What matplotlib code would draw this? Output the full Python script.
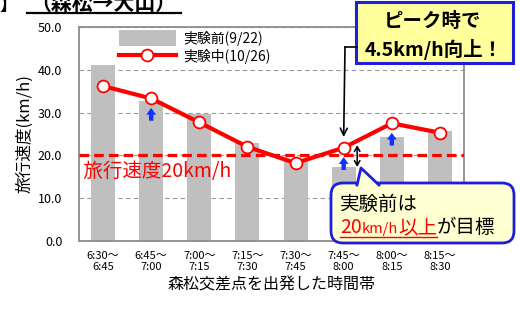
import numpy as np
import matplotlib
matplotlib.use("Agg")
import matplotlib.pyplot as plt
from matplotlib.patches import FancyBboxPatch, Rectangle, Polygon
from matplotlib.lines import Line2D

plt.rcParams['font.family'] = ['Noto Sans CJK JP', 'DejaVu Sans']

# data
slots = ["6:30～\n6:45", "6:45～\n7:00", "7:00～\n7:15", "7:15～\n7:30",
         "7:30～\n7:45", "7:45～\n8:00", "8:00～\n8:15", "8:15～\n8:30"]
before = [41.1, 32.8, 29.6, 23.0, 18.8, 17.3, 24.2, 25.7]   # 実験前(9/22)
during = [36.2, 33.3, 27.7, 22.0, 18.2, 21.8, 27.5, 25.3]   # 実験中(10/26)
target = 20
up_idx = [1, 5, 6]   # blue arrows
peak_idx = 5

W, H = 520, 311
fig = plt.figure(figsize=(W / 100, H / 100), dpi=100)
ax = fig.add_axes([79 / W, 1 - 241 / H, (464 - 79) / W, (241 - 27) / H])


def P(x, y):
    # reference pixel -> inches (for fig.dpi_scale_trans)
    return (x / 100, (H - y) / 100)


pix = fig.dpi_scale_trans
x = np.arange(len(slots))

bars = ax.bar(x, before, width=0.5, color='#BFBFBF', zorder=2, label='実験前(9/22)')
ax.axhline(target, color='#FF0000', lw=2.3, ls=(0, (3, 1.6)), zorder=3)
line, = ax.plot(x, during, color='#FF0000', lw=3, marker='o', ms=8.5, mfc='white',
                mec='#FF0000', mew=1.3, zorder=4, label='実験中(10/26)')

ax.set_xlim(-0.5, len(slots) - 0.5)
ax.set_ylim(0, 50)
ax.set_yticks(np.arange(0, 51, 10))
ax.set_yticklabels([f"{v:.1f}" for v in np.arange(0, 51, 10)], fontsize=9)
ax.set_xticks(x)
ax.set_xticklabels(slots, fontsize=8, linespacing=1.1)
ax.tick_params(axis='both', length=0)
ax.tick_params(axis='y', pad=12)
ax.tick_params(axis='x', pad=7)
ax.yaxis.grid(True, color='#999999', lw=0.8, ls=(0, (4, 3)))
ax.set_axisbelow(True)
for s in ax.spines.values():
    s.set_color('#8C8C8C')
    s.set_linewidth(1.3)

ax.set_ylabel('旅行速度(km/h)', fontsize=12)
ax.yaxis.set_label_coords(-0.119, 0.5)
ax.set_xlabel('森松交差点を出発した時間帯', fontsize=11.5, va='top')
ax.xaxis.set_label_coords(0.5, -0.168)

ax.legend(handles=[bars, line], loc='upper left', bbox_to_anchor=(119 / W, 1 - 30 / H),
          bbox_transform=fig.transFigure, frameon=False, fontsize=10,
          borderpad=0, handlelength=4.1, handleheight=1.45,
          labelspacing=0.15, handletextpad=0.5, borderaxespad=0)

ax.text(0.0, target - 1.2, ' 旅行速度20km/h', color='#FF0000', fontsize=14,
        va='top', ha='left', transform=ax.get_yaxis_transform(), zorder=5)

# blue up arrows
for i in up_idx:
    tip = during[i] - 2.2
    ax.annotate('', xy=(i, tip), xytext=(i, tip - 3.0),
                arrowprops=dict(arrowstyle='simple,head_width=1.0,head_length=0.7,tail_width=0.45',
                                color='#1030FF', lw=0, mutation_scale=7,
                                shrinkA=0, shrinkB=0), zorder=5)

# double arrow: gap between before and during at peak
ax.annotate('', xy=(peak_idx + 0.28, during[peak_idx] + 0.6),
            xytext=(peak_idx + 0.28, before[peak_idx]),
            arrowprops=dict(arrowstyle='<->,head_length=0.35,head_width=0.2',
                            color='black', lw=1.1, shrinkA=0, shrinkB=0), zorder=5)

# callout at top right
ax.annotate('', xy=(peak_idx, during[peak_idx] + 2.5), xycoords='data',
            xytext=P(345, 47), textcoords=pix,
            arrowprops=dict(arrowstyle='->,head_length=0.5,head_width=0.25', color='black',
                            lw=1.2, shrinkA=0, shrinkB=0), annotation_clip=False)
fig.add_artist(Line2D([345 / 100, 357 / 100], [(H - 47) / 100] * 2, transform=pix,
                      color='black', lw=1.2))
fig.add_artist(Rectangle(P(356, 63), 157 / 100, 61 / 100, transform=pix,
                         facecolor='#FFFF9C', edgecolor='#1E1ED8', lw=2.2))
fig.text(*P(433, 21), 'ピーク時で', transform=pix, ha='center', va='center',
         fontsize=14, fontweight='bold')
fig.text(*P(434, 49), '4.5km/h向上！', transform=pix, ha='center', va='center',
         fontsize=14, fontweight='bold')

# speech bubble at bottom right
fig.add_artist(FancyBboxPatch(P(331, 243), 183 / 100, 60 / 100, transform=pix,
                              boxstyle='round,pad=0,rounding_size=0.12',
                              facecolor='#FFFFD2', edgecolor='#1E1ED8', lw=2))
tail = [P(357, 185), P(361, 168), P(379, 185)]
fig.add_artist(Polygon(tail, closed=True, transform=pix, facecolor='#FFFFD2',
                       edgecolor='none'))
fig.add_artist(Line2D([tail[0][0], tail[1][0], tail[2][0]],
                      [tail[0][1], tail[1][1], tail[2][1]], transform=pix,
                      color='#1E1ED8', lw=2))

fig.text(*P(340, 204), '実験前は', transform=pix, ha='left', va='center', fontsize=14)
renderer = fig.canvas.get_renderer()
cx = 340
pieces = [('20', 14, '#FF0000'), ('km/h', 10.5, '#FF0000'), ('以上', 14, '#FF0000'),
          ('が目標', 14, 'black')]
under_end = cx
for txt, fs, col in pieces:
    t = fig.text(cx / 100, (H - 233) / 100, txt, transform=pix, ha='left',
                 va='baseline', fontsize=fs, color=col)
    bb = t.get_window_extent(renderer)
    cx += bb.width
    if col != 'black':
        under_end = cx
fig.add_artist(Line2D([340 / 100, under_end / 100], [(H - 237) / 100] * 2,
                      transform=pix, color='#FF0000', lw=1))

# partly cut heading at the very top
fig.text(*P(-1, 10), '】', transform=pix, ha='left', va='baseline',
         fontsize=13, fontweight='bold')
fig.text(*P(30, 10), '（森松→大山）', transform=pix, ha='left', va='baseline',
         fontsize=15, fontweight='bold')
fig.add_artist(Line2D([27 / 100, 181 / 100], [(H - 13) / 100] * 2, transform=pix,
                      color='black', lw=1.6))

fig.savefig('out.png', dpi=100)
